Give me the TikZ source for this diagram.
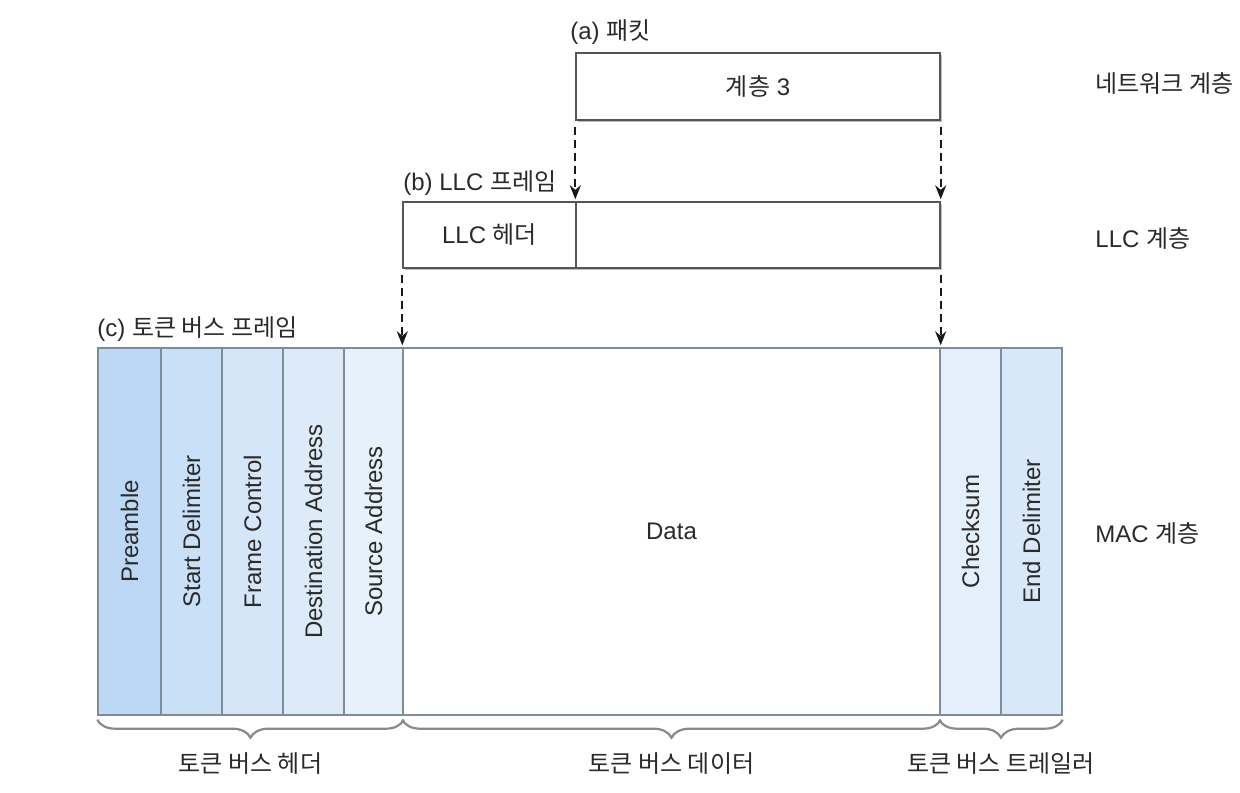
\documentclass[tikz,border=0pt]{standalone}
\usepackage{fontspec}
\setmainfont{Liberation Sans}
\newfontfamily\kr{Noto Sans CJK KR}
\usetikzlibrary{fit,decorations.pathreplacing,shadows,arrows.meta,backgrounds}
\definecolor{cpre}{HTML}{BCD8F4}
\definecolor{csd}{HTML}{C9E0F7}
\definecolor{cfc}{HTML}{D4E6F8}
\definecolor{cda}{HTML}{DDEBF9}
\definecolor{csa}{HTML}{E6F1FB}
\definecolor{ccs}{HTML}{E3EFFA}
\definecolor{ced}{HTML}{D8E8F8}
\definecolor{colborder}{HTML}{7F8C99}
\definecolor{boxborder}{HTML}{555555}
\definecolor{bracecol}{HTML}{8A8A8A}
\definecolor{txt}{HTML}{2A2A2A}
\tikzset{
  shad/.style={drop shadow={shadow xshift=1.2pt,shadow yshift=-1.2pt,opacity=0.25,fill=black}},
  pbox/.style={draw=boxborder,line width=0.7pt,fill=white,inner sep=0pt,text=txt},
  col/.style={draw=colborder,line width=0.7pt,inner sep=0pt},
  vlab/.style={rotate=90,text=txt},
  lab/.style={text=txt,inner sep=0pt},
  dasharrow/.style={draw=black!90,line width=0.95pt,dash pattern=on 4pt off 2.5pt,
     -{Stealth[length=7pt,width=5.5pt]},shorten <=3pt,shorten >=1pt},
  br/.style={draw=bracecol,line width=1.1pt,decorate,
     decoration={brace,mirror,amplitude=9pt,raise=2pt}}
}
\begin{document}
\begin{tikzpicture}[x=0.5pt,y=-0.5pt,font=\fontsize{12}{14}\selectfont]
\useasboundingbox[fill=white] (0,0) rectangle (1240,792);

% (a) packet
\node[pbox,shad,fit={(576,53)(940,120)}] (pkt) {};
\node[lab] at (pkt.center) {{\kr 계층} 3};
\node[lab,anchor=base west] (la) at (570,40) {(a) {\kr 패킷}};

% (b) LLC frame
\node[pbox,shad,fit={(403,202)(576,268)}] (llchdr) {};
\node[pbox,shad,fit={(576,202)(940,268)}] (llcdata) {};
\node[lab] at (llchdr.center) {LLC {\kr 헤더}};
\node[lab,anchor=base west] (lb) at (403,190) {(b) LLC {\kr 프레임}};

% (c) token bus frame
\node[lab,anchor=base west] (lc) at (97,336) {(c) {\kr 토큰 버스 프레임}};
\node[col,fill=cpre,fit={(98,348)(161,715)}] (pre) {};
\node[col,fill=csd,fit={(161,348)(222,715)}] (sd) {};
\node[col,fill=cfc,fit={(222,348)(283,715)}] (fc) {};
\node[col,fill=cda,fit={(283,348)(344,715)}] (da) {};
\node[col,fill=csa,fit={(344,348)(403,715)}] (sa) {};
\node[col,fill=white,fit={(403,348)(940,715)}] (data) {};
\node[col,fill=ccs,fit={(940,348)(1001,715)}] (cs) {};
\node[col,fill=ced,fit={(1001,348)(1062,715)}] (ed) {};
\begin{scope}[on background layer]
  \node[col,shad,fill=white,fit=(pre)(ed)] (frame) {};
\end{scope}
\node[vlab] at (pre.center) {Preamble};
\node[vlab] at (sd.center) {Start Delimiter};
\node[vlab] at (fc.center) {Frame Control};
\node[vlab] at (da.center) {Destination Address};
\node[vlab] at (sa.center) {Source Address};
\node[lab] at (data.center) {Data};
\node[vlab] at (cs.center) {Checksum};
\node[vlab] at (ed.center) {End Delimiter};

% dashed arrows
\draw[dasharrow] (pkt.south west) -- (llcdata.north west);
\draw[dasharrow] (pkt.south east) -- (llcdata.north east);
\draw[dasharrow] (llchdr.south west) -- (data.north west);
\draw[dasharrow] (llcdata.south east) -- (data.north east);

% braces
\draw[br] (pre.south west) -- (sa.south east)
   node[midway,below=18pt,lab] (bh) {\kr 토큰 버스 헤더};
\draw[br] (data.south west) -- (data.south east)
   node[midway,below=18pt,lab] (bd) {\kr 토큰 버스 데이터};
\draw[br] (cs.south west) -- (ed.south east)
   node[midway,below=18pt,lab] (bt) {\kr 토큰 버스 트레일러};

% layer labels
\node[lab,anchor=base west] (l1) at (1095,92) {\kr 네트워크 계층};
\node[lab,anchor=base west] (l2) at (1095,247) {LLC {\kr 계층}};
\node[lab,anchor=base west] (l3) at (1095,542) {MAC {\kr 계층}};
\end{tikzpicture}
\end{document}
